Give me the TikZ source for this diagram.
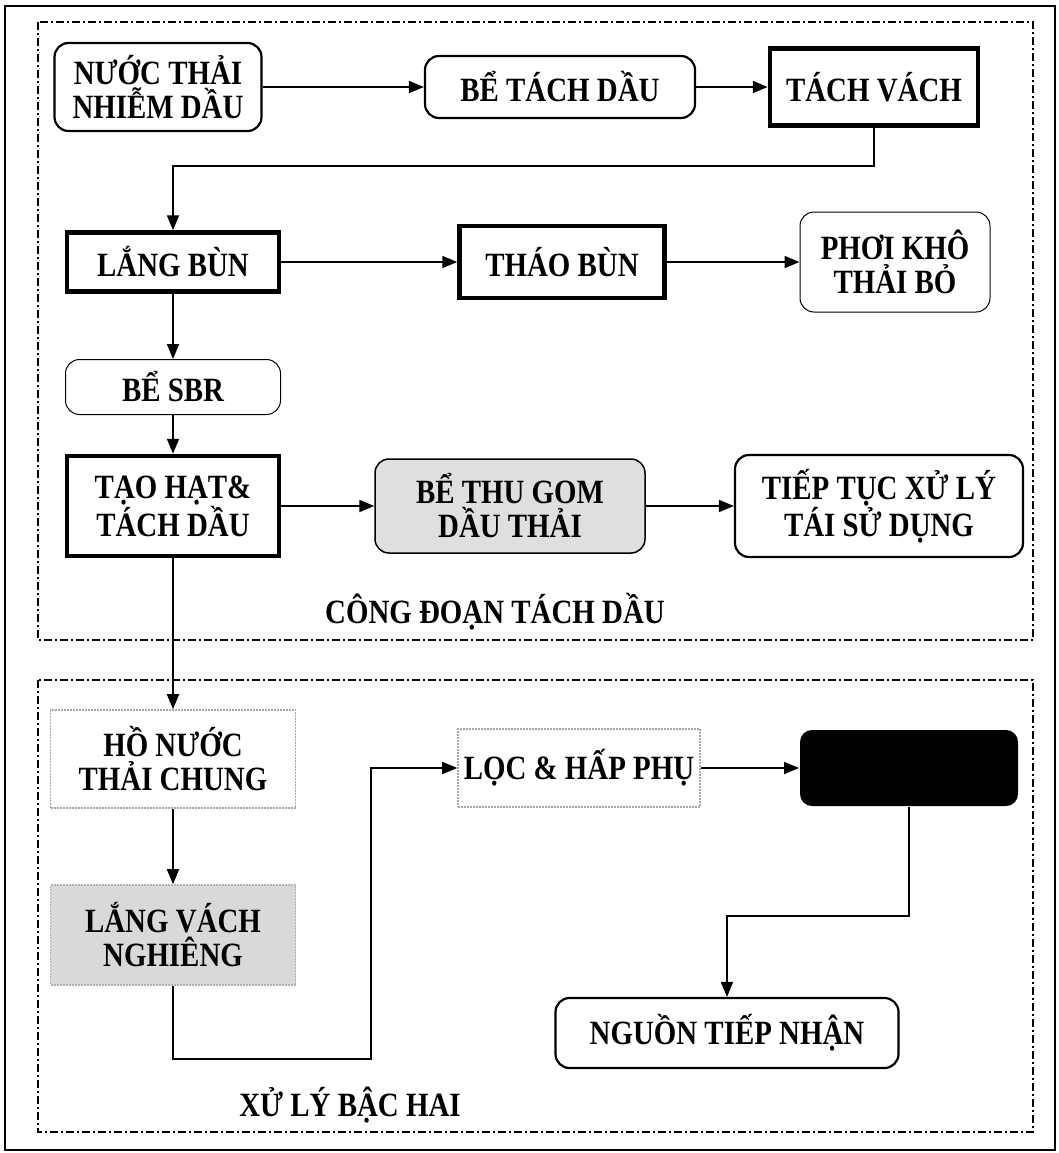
\documentclass[tikz,border=0pt]{standalone}
\usepackage{fontspec}
\setmainfont{Liberation Serif}
\newfontfamily\boxfont[FakeStretch=0.85]{Liberation Serif}
\usetikzlibrary{arrows.meta,positioning}

\begin{document}
\begin{tikzpicture}[x=1pt,y=-1pt,
    box/.style={align=center, inner sep=0pt, line width=2pt,
      font=\boxfont\bfseries\fontsize{34}{34}\selectfont},
    rbox/.style={box, draw, rounded corners=14pt, line width=2.2pt},
    thinbox/.style={box, draw, rounded corners=14pt, line width=1pt},
    tbox/.style={box, draw, line width=4.5pt},
    dotbox/.style={box, draw=gray!70, densely dotted, line width=1.6pt},
    graybox/.style={box, draw=gray!60, fill=gray!30, densely dotted, line width=1.6pt},
    grayrbox/.style={box, draw, fill=gray!25, rounded corners=14pt, line width=1.5pt},
    darkbox/.style={box, fill=black, rounded corners=12pt},
    arr/.style={line width=1.8pt, -{Triangle[length=15pt,width=12pt]}},
    group/.style={line width=2pt, dash pattern=on 8pt off 3pt on 2pt off 3pt},
    grouplabel/.style={font=\boxfont\bfseries\fontsize{34}{34}\selectfont}]
  \useasboundingbox (0,0) rectangle (1059,1153);
  % outer frame and groups
  \draw[line width=1.2pt] (5,6) rectangle (1055,1150);
  \draw[group] (38,22) rectangle (1033,640);
  \draw[group] (38,680) rectangle (1033,1132);
  % Row 1
  \node[rbox, minimum width=207pt, minimum height=88pt] (nuoc) at (158,87) {NƯỚC THẢI\\NHIỄM DẦU};
  \node[rbox, minimum width=270pt, minimum height=62pt] (betach) at (560,87) {BỂ TÁCH DẦU};
  \node[tbox, minimum width=208pt, minimum height=77pt] (tachvach) at (874,87) {TÁCH VÁCH};
  % Row 2
  \node[tbox, minimum width=212pt, minimum height=59pt] (langbun) at (173,262) {LẮNG BÙN};
  \node[tbox, minimum width=205pt, minimum height=72pt] (thaobun) at (562,262) {THÁO BÙN};
  \node[thinbox, minimum width=190pt, minimum height=100pt] (phoi) at (895,262) {PHƠI KHÔ\\THẢI BỎ};
  % Row 3
  \node[thinbox, minimum width=215pt, minimum height=55pt] (sbr) at (173,387) {BỂ SBR};
  % Row 4
  \node[tbox, minimum width=212pt, minimum height=100pt] (taohat) at (173,506) {TẠO HẠT\&\\TÁCH DẦU};
  \node[grayrbox, minimum width=270pt, minimum height=94pt] (thugom) at (510,506) {BỂ THU GOM\\DẦU THẢI};
  \node[rbox, minimum width=288pt, minimum height=102pt] (tieptuc) at (879,506) {TIẾP TỤC XỬ LÝ\\TÁI SỬ DỤNG};
  \node[grouplabel] (cdlabel) at (495,612) {CÔNG ĐOẠN TÁCH DẦU};
  % Second stage
  \node[dotbox, minimum width=245pt, minimum height=98pt] (honuoc) at (173,759) {HỒ NƯỚC\\THẢI CHUNG};
  \node[graybox, minimum width=245pt, minimum height=100pt] (langvach) at (173,935) {LẮNG VÁCH\\NGHIÊNG};
  \node[dotbox, minimum width=242pt, minimum height=78pt] (loc) at (579,768) {LỌC \& HẤP PHỤ};
  \node[darkbox, minimum width=218pt, minimum height=76pt] (khutrung) at (909,768) {};
  \node[rbox, minimum width=343pt, minimum height=70pt] (nguon) at (727,1033) {NGUỒN TIẾP NHẬN};
  \node[grouplabel] (bhlabel) at (350,1105) {XỬ LÝ BẬC HAI};
  % connectors
  \draw[arr] (nuoc) -- (betach);
  \draw[arr] (betach) -- (tachvach);
  \draw[arr] (tachvach.south) -- ++(0,38) -| (langbun.north);
  \draw[arr] (langbun) -- (thaobun);
  \draw[arr] (thaobun) -- (phoi);
  \draw[arr] (langbun) -- (sbr);
  \draw[arr] (sbr) -- (taohat);
  \draw[arr] (taohat) -- (thugom);
  \draw[arr] (thugom) -- (tieptuc);
  \draw[arr] (taohat) -- (honuoc);
  \draw[arr] (honuoc) -- (langvach);
  \draw[arr] (langvach.south) -- ++(0,73) -| ([xshift=-86pt]loc.west) -- (loc.west);
  \draw[arr] (loc) -- (khutrung);
  \draw[arr] (khutrung.south) -- ++(0,109) -| (nguon.north);
\end{tikzpicture}
\end{document}
